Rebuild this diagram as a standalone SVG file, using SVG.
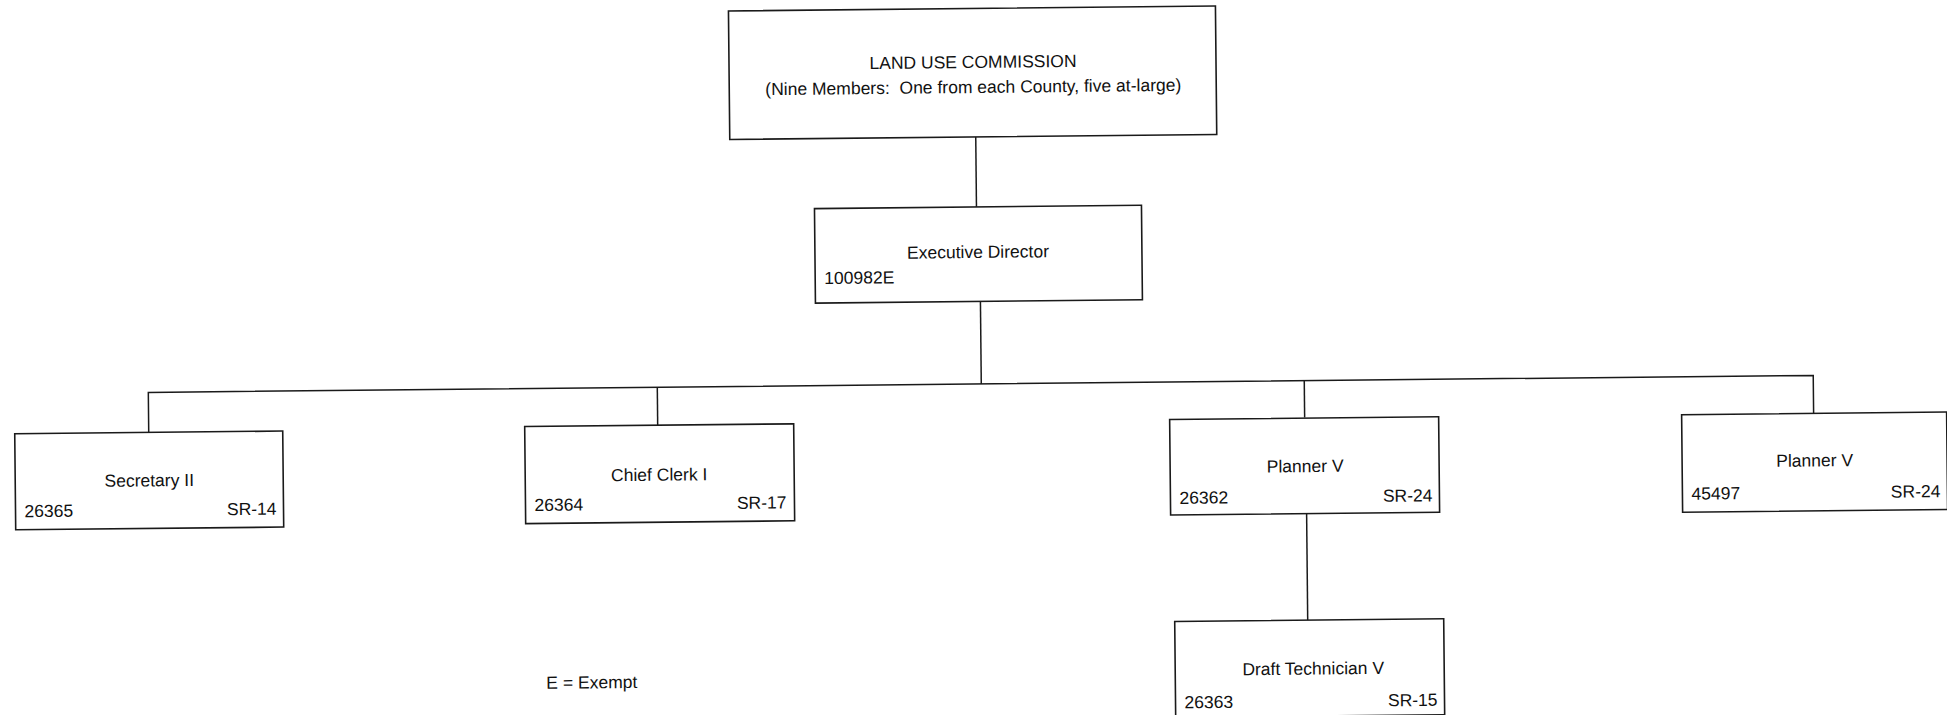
<svg xmlns="http://www.w3.org/2000/svg" width="1947" height="715" viewBox="0 0 1947 715">
  <style>
    .box { fill: #ffffff; stroke: #1a1a1a; stroke-width: 1.6; }
    .link { fill: none; stroke: #1a1a1a; stroke-width: 1.5; }
    text { font-family: "Liberation Sans", Arial, sans-serif; font-size: 17.5px; fill: #111111; white-space: pre; }
    .mid { text-anchor: middle; }
    .end { text-anchor: end; }
  </style>
  <rect width="1947" height="715" fill="#ffffff"/>
  <!-- whole chart sits slightly tilted on the page -->
  <g transform="rotate(-0.585 973 357)">
    <g id="connectors">
      <path class="link" d="M978 137 V207"/>
      <path class="link" d="M981 301 V384"/>
      <path class="link" d="M148 424 V384 H1813 V422"/>
      <path class="link" d="M657 384 V422"/>
      <path class="link" d="M1304 384 V421"/>
      <path class="link" d="M1305 517 V623.5"/>
    </g>

    <g id="land-use-commission">
      <rect class="box" x="732" y="8.5" width="487" height="128.5"/>
      <text class="mid" x="976" y="68">LAND USE COMMISSION</text>
      <text class="mid" x="976" y="93" xml:space="preserve">(Nine Members:  One from each County, five at-large)</text>
    </g>

    <g id="executive-director">
      <rect class="box" x="816" y="207" width="327" height="94.5"/>
      <text class="mid" x="979" y="258">Executive Director</text>
      <text x="825" y="282.5">100982E</text>
    </g>

    <g id="secretary-ii">
      <rect class="box" x="14" y="424" width="268" height="96"/>
      <text class="mid" x="148" y="478">Secretary II</text>
      <text x="23" y="507.5">26365</text>
      <text class="end" x="275" y="507.5">SR-14</text>
    </g>

    <g id="chief-clerk-i">
      <rect class="box" x="524" y="422" width="269" height="97"/>
      <text class="mid" x="658" y="477.5">Chief Clerk I</text>
      <text x="533" y="506.5">26364</text>
      <text class="end" x="785" y="506.5">SR-17</text>
    </g>

    <g id="planner-v-26362">
      <rect class="box" x="1169" y="421.5" width="269" height="95.5"/>
      <text class="mid" x="1304" y="475.5">Planner V</text>
      <text x="1178" y="506">26362</text>
      <text class="end" x="1431" y="506">SR-24</text>
    </g>

    <g id="planner-v-45497">
      <rect class="box" x="1681" y="422" width="265" height="97.5"/>
      <text class="mid" x="1813.5" y="475">Planner V</text>
      <text x="1690" y="507">45497</text>
      <text class="end" x="1939" y="507">SR-24</text>
    </g>

    <g id="draft-technician-v">
      <rect class="box" x="1172" y="623.5" width="269" height="96"/>
      <text class="mid" x="1310" y="678">Draft Technician V</text>
      <text x="1181" y="710.5">26363</text>
      <text class="end" x="1434" y="710.5">SR-15</text>
    </g>

    <g id="legend">
      <text x="543" y="684.5">E = Exempt</text>
    </g>
  </g>
</svg>
